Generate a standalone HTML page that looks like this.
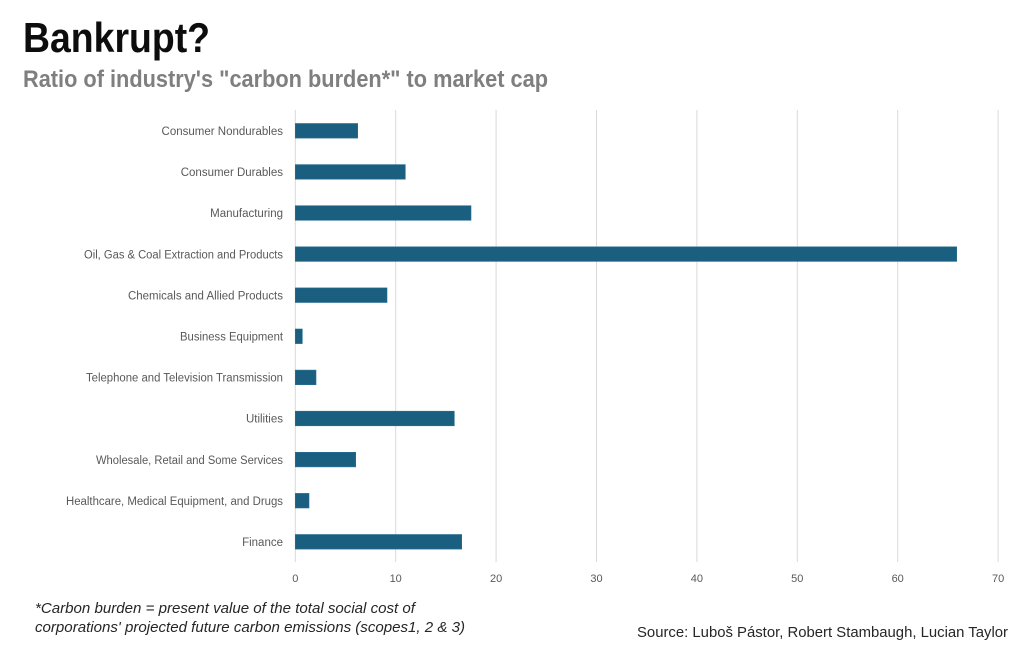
<!DOCTYPE html>
<html>
<head>
<meta charset="utf-8">
<style>
  html, body { margin: 0; padding: 0; background: #ffffff; }
  body { width: 1024px; height: 646px; overflow: hidden; }
  svg { display: block; }
  .lbl { font-family: "Liberation Sans", sans-serif; font-size: 11.5px; fill: #595959; }
  .tick { font-family: "Liberation Sans", sans-serif; font-size: 11px; fill: #595959; }
</style>
</head>
<body>
<svg width="1024" height="646" viewBox="0 0 1024 646" xmlns="http://www.w3.org/2000/svg">
  <rect x="0" y="0" width="1024" height="646" fill="#ffffff"/>

  <!-- Title -->
  <text x="23" y="52" font-family="Liberation Sans, sans-serif" font-weight="bold" font-size="42" fill="#0d0d0d" textLength="187" lengthAdjust="spacingAndGlyphs">Bankrupt?</text>
  <text x="23" y="87" font-family="Liberation Sans, sans-serif" font-weight="bold" font-size="24" fill="#7f7f7f" textLength="525" lengthAdjust="spacingAndGlyphs">Ratio of industry's "carbon burden*" to market cap</text>

  <!-- Gridlines -->
  <g stroke="#d9d9d9" stroke-width="1">
    <line x1="295.3" y1="110" x2="295.3" y2="562"/>
    <line x1="395.7" y1="110" x2="395.7" y2="562"/>
    <line x1="496.1" y1="110" x2="496.1" y2="562"/>
    <line x1="596.5" y1="110" x2="596.5" y2="562"/>
    <line x1="696.9" y1="110" x2="696.9" y2="562"/>
    <line x1="797.3" y1="110" x2="797.3" y2="562"/>
    <line x1="897.7" y1="110" x2="897.7" y2="562"/>
    <line x1="998.1" y1="110" x2="998.1" y2="562"/>
  </g>

  <!-- Tick labels -->
  <g class="tick" text-anchor="middle">
    <text x="295.3" y="582">0</text>
    <text x="395.7" y="582">10</text>
    <text x="496.1" y="582">20</text>
    <text x="596.5" y="582">30</text>
    <text x="696.9" y="582">40</text>
    <text x="797.3" y="582">50</text>
    <text x="897.7" y="582">60</text>
    <text x="998.1" y="582">70</text>
  </g>

  <!-- Bars -->
  <g fill="#1a5e80" stroke="#2a7196" stroke-width="0.6">
    <rect x="295.3" y="123.5" width="62.4" height="14.6"/>
    <rect x="295.3" y="164.6" width="110.0" height="14.6"/>
    <rect x="295.3" y="205.7" width="175.7" height="14.6"/>
    <rect x="295.3" y="246.8" width="661.4" height="14.6"/>
    <rect x="295.3" y="287.9" width="91.7" height="14.6"/>
    <rect x="295.3" y="329.0" width="7.0" height="14.6"/>
    <rect x="295.3" y="370.1" width="20.7" height="14.6"/>
    <rect x="295.3" y="411.2" width="159.0" height="14.6"/>
    <rect x="295.3" y="452.3" width="60.4" height="14.6"/>
    <rect x="295.3" y="493.4" width="13.7" height="14.6"/>
    <rect x="295.3" y="534.5" width="166.4" height="14.6"/>
  </g>

  <!-- Category labels -->
  <g class="lbl" text-anchor="end">
    <text x="283" y="135">Consumer Nondurables</text>
    <text x="283" y="176.1">Consumer Durables</text>
    <text x="283" y="217.2">Manufacturing</text>
    <text x="283" y="258.3" textLength="199" lengthAdjust="spacingAndGlyphs">Oil, Gas &amp; Coal Extraction and Products</text>
    <text x="283" y="299.4" textLength="155" lengthAdjust="spacingAndGlyphs">Chemicals and Allied Products</text>
    <text x="283" y="340.5" textLength="103" lengthAdjust="spacingAndGlyphs">Business Equipment</text>
    <text x="283" y="381.6" textLength="197" lengthAdjust="spacingAndGlyphs">Telephone and Television Transmission</text>
    <text x="283" y="422.7">Utilities</text>
    <text x="283" y="463.8" textLength="187" lengthAdjust="spacingAndGlyphs">Wholesale, Retail and Some Services</text>
    <text x="283" y="504.9" textLength="217" lengthAdjust="spacingAndGlyphs">Healthcare, Medical Equipment, and Drugs</text>
    <text x="283" y="546">Finance</text>
  </g>

  <!-- Footnote -->
  <g font-family="Liberation Sans, sans-serif" font-style="italic" font-size="14.5" fill="#262626">
    <text x="35" y="613" textLength="380" lengthAdjust="spacingAndGlyphs">*Carbon burden = present value of the total social cost of</text>
    <text x="35" y="632" textLength="430" lengthAdjust="spacingAndGlyphs">corporations' projected future carbon emissions (scopes1, 2 &amp; 3)</text>
  </g>

  <!-- Source -->
  <text x="637" y="637" font-family="Liberation Sans, sans-serif" font-size="15" fill="#262626" textLength="371" lengthAdjust="spacingAndGlyphs">Source: Luboš Pástor, Robert Stambaugh, Lucian Taylor</text>
</svg>
</body>
</html>
